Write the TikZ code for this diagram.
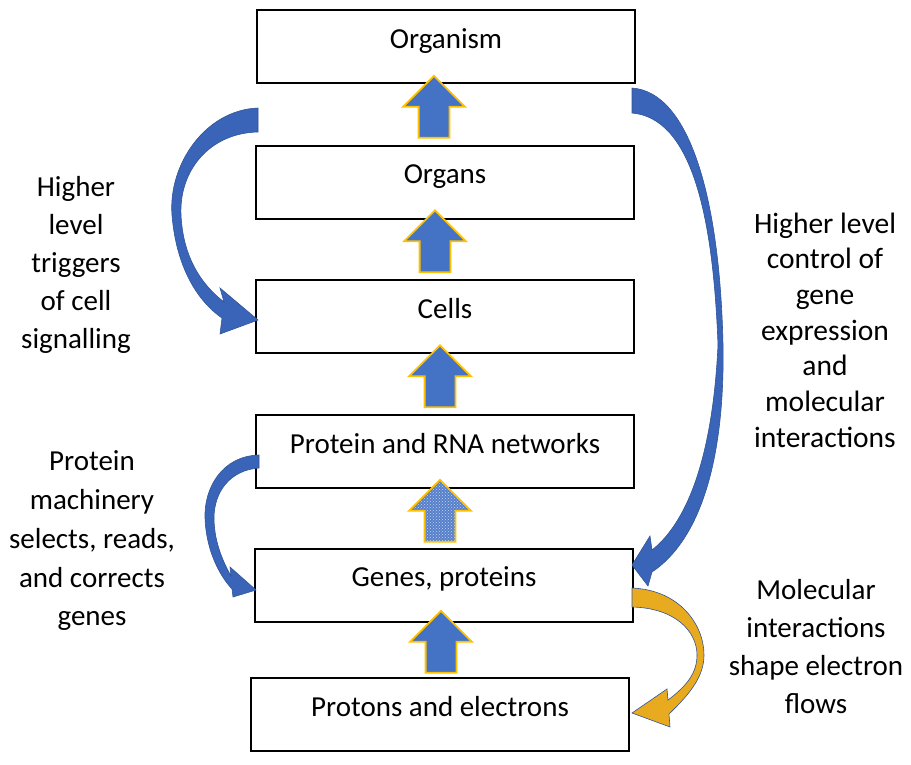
\documentclass[tikz,border=0pt]{standalone}
\usepackage{fontspec}
\setmainfont{Carlito}
\usetikzlibrary{shapes.arrows,patterns}
\definecolor{boxblue}{RGB}{68,114,196}
\definecolor{curveblue}{RGB}{58,100,184}
\definecolor{edgeblue}{RGB}{47,85,151}
\definecolor{gold}{RGB}{255,192,0}
\definecolor{amber}{RGB}{232,170,30}
\definecolor{paleblue}{RGB}{196,212,244}
\tikzset{
  tier/.style={draw,line width=2pt,minimum width=378pt,minimum height=73pt,inner sep=0pt,
               text height=20pt,text depth=17pt,font=\fontsize{29}{35}\selectfont},
  sidenote/.style={align=center,inner sep=0pt},
  uparr/.style={single arrow,draw=gold,line width=1.8pt,rotate=90,
                minimum height=62pt,single arrow head extend=15.5pt,inner xsep=0pt,inner ysep=14.5pt},
  solidarr/.style={uparr,fill=boxblue},
  speckarr/.style={uparr,preaction={fill=boxblue!90!white},pattern=crosshatch dots,pattern color=paleblue},
  curvearr/.style={fill=curveblue,draw=edgeblue,line width=0.6pt},
}
\begin{document}
\begin{tikzpicture}[x=1pt,y=-1pt]
  \useasboundingbox (0,0) rectangle (911,764);
  % the levels
  \node[tier] (organism) at (446,46.5) {Organism};
  \node[tier] (organs) at (445,182) {Organs};
  \node[tier] (cells) at (445,316.5) {Cells};
  \node[tier] (networks) at (445,451.5) {Protein and RNA networks};
  \node[tier] (genes) at (444,585) {Genes, proteins};
  \node[tier] (protons) at (440,714.5) {Protons and electrons};
  % upward arrows
  \node[solidarr] (up1) at (434,114.5) {};
  \node[solidarr] (up2) at (435,249) {};
  \node[solidarr] (up3) at (440,384) {};
  \node[speckarr] (up4) at (440,518.5) {};
  \node[solidarr] (up5) at (441,649.5) {};
  % curved arrows
  \draw[curvearr] (258,108) .. controls (205,110) and (168,165) .. (172,215)
        .. controls (176,265) and (196,300) .. (222,318) -- (220,334) -- (258,320) -- (220,288) -- (224,302)
        .. controls (202,285) and (183,258) .. (181,215) .. controls (179,170) and (210,133) .. (258,132) -- cycle;
  \draw[curvearr] (632,88) .. controls (690,92) and (720,200) .. (723,345)
        .. controls (725,460) and (700,540) .. (652,572) -- (648,586) -- (632,565) -- (650,536) -- (652,550)
        .. controls (690,520) and (713,450) .. (718,345) .. controls (713,210) and (690,118) .. (632,113) -- cycle;
  \draw[curvearr] (259,455) .. controls (222,456) and (204,488) .. (205,518)
        .. controls (206,548) and (218,574) .. (232,589) -- (233,597) -- (256,590) -- (230,567) -- (231,576)
        .. controls (222,560) and (214,540) .. (214,518) .. controls (214,492) and (230,470) .. (259,468) -- cycle;
  \draw[curvearr,fill=amber] (632,588) .. controls (680,590) and (704,625) .. (704,655)
        .. controls (704,675) and (692,692) .. (669,714) -- (670,727) -- (632,713) -- (667,689) -- (668,700)
        .. controls (688,685) and (697,672) .. (697,655) .. controls (697,632) and (676,608) .. (632,607) -- cycle;
  % side notes
  \node[sidenote,font=\fontsize{29}{38}\selectfont] (triggers) at (76,265)
    {Higher\\level\\triggers\\of cell\\signalling};
  \node[sidenote,font=\fontsize{29}{38.75}\selectfont] (machinery) at (92,541)
    {Protein\\machinery\\selects, reads,\\and corrects\\genes};
  \node[sidenote,font=\fontsize{29.5}{35.7}\selectfont] (control) at (825,330)
    {Higher level\\control of\\gene\\expression\\and\\molecular\\interactions};
  \node[sidenote,font=\fontsize{29}{37.7}\selectfont] (flows) at (816,646.5)
    {Molecular\\interactions\\shape electron\\flows};
\end{tikzpicture}
\end{document}
